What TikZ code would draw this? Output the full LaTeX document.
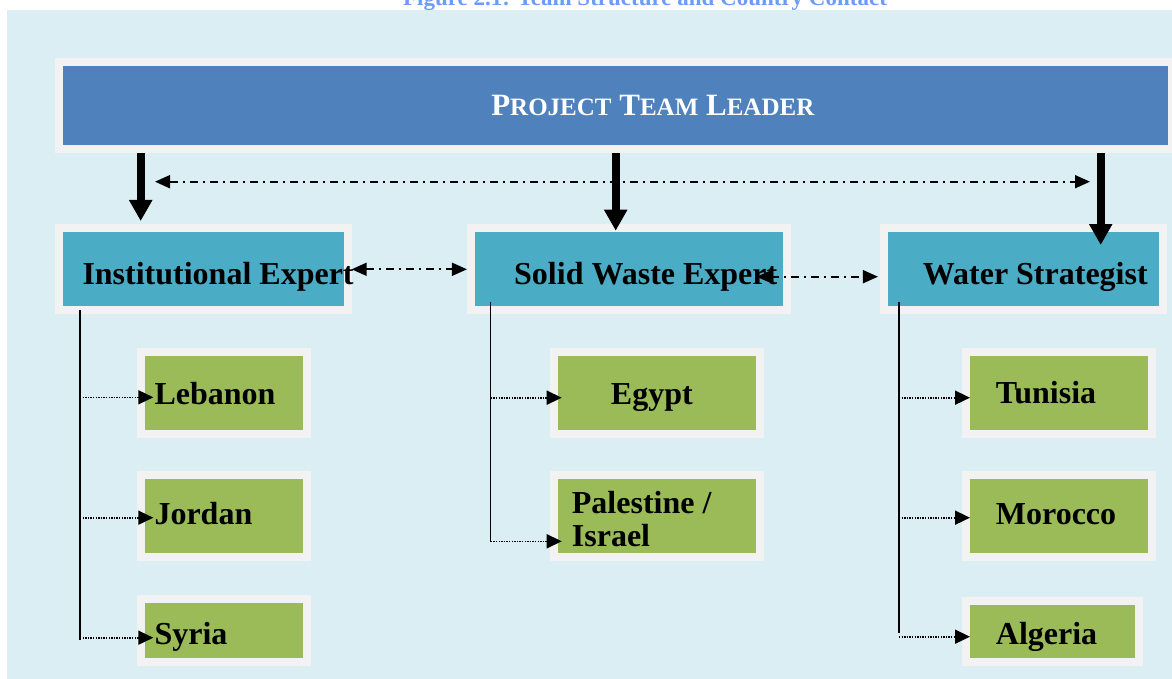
\documentclass[tikz,border=0pt]{standalone}
\usepackage{fontspec}
\setmainfont{Liberation Serif}
\usetikzlibrary{arrows.meta,calc}

\definecolor{pagebg}{RGB}{219,238,243}
\definecolor{framegray}{RGB}{242,242,242}
\definecolor{leaderblue}{RGB}{79,129,189}
\definecolor{expertblue}{RGB}{75,172,198}
\definecolor{countrygreen}{RGB}{155,187,89}
\definecolor{captionblue}{RGB}{110,155,250}

% faked small capitals for the leader banner
\newcommand\lowcaps[1]{{\fontsize{25}{25}\selectfont #1}}

\tikzset{
  framed/.style={draw=framegray, line width=8pt, inner sep=0pt, outer sep=0pt},
  leaderbox/.style={framed, fill=leaderblue},
  expertbox/.style={framed, fill=expertblue},
  countrybox/.style={framed, fill=countrygreen},
  lbl/.style={inner sep=0pt, anchor=base west, font=\fontsize{32}{33}\selectfont\bfseries},
  bigarrow/.style={line width=8pt, -{Triangle[length=21pt,width=22pt]}},
  dashdotlink/.style={line width=1.7pt, dash pattern=on 8pt off 5pt on 2pt off 5pt,
    {Triangle[length=15pt,width=13pt]}-{Triangle[length=15pt,width=13pt]}},
  trunk/.style={line width=1.5pt},
  dotlink/.style={line width=1.6pt, dash pattern=on 1.4pt off 1.2pt,
    -{Triangle[length=15pt,width=14pt]}},
}

\begin{document}
\begin{tikzpicture}[x=1pt,y=-1pt]
\useasboundingbox (0,0) rectangle (1172,679);
\clip (0,0) rectangle (1172,679);
\fill[white] (0,0) rectangle (1172,679);
\fill[pagebg] (7,10) rectangle (1172,679);

% caption
\node[inner sep=0pt, anchor=base, text=captionblue,
      font=\fontsize{23}{23}\selectfont\bfseries] (caption) at (645,5.7)
  {Figure 2.1: Team Structure and Country Contact};

% leader banner
\node[leaderbox, minimum width=1113pt, minimum height=87pt] (leader) at (615.5,105.5) {};
\node[inner sep=0pt, anchor=base, text=white, font=\fontsize{31}{31}\selectfont\bfseries]
  (leadertxt) at (652.8,115.3)
  {P\lowcaps{ROJECT} T\lowcaps{EAM} L\lowcaps{EADER}};

% experts
\node[expertbox, minimum width=288.7pt, minimum height=82pt] (inst)  at (203.3,269) {};
\node[expertbox, minimum width=315.7pt, minimum height=82pt] (solid) at (628.8,269) {};
\node[expertbox, minimum width=278.7pt, minimum height=82pt] (water) at (1023.3,269) {};

% countries
\node[countrybox, minimum width=165.4pt, minimum height=81.7pt] (leb) at (224,392.8) {};
\node[countrybox, minimum width=165.4pt, minimum height=82pt]   (jor) at (224,516.3) {};
\node[countrybox, minimum width=165.4pt, minimum height=63pt]   (syr) at (224,630.5) {};
\node[countrybox, minimum width=206pt, minimum height=81.7pt]   (egy) at (657,392.8) {};
\node[countrybox, minimum width=206pt, minimum height=82pt]     (pal) at (657,516.3) {};
\node[countrybox, minimum width=185.7pt, minimum height=81.7pt] (tun) at (1059.2,392.8) {};
\node[countrybox, minimum width=185.7pt, minimum height=82pt]   (mor) at (1059.2,516.3) {};
\node[countrybox, minimum width=172.4pt, minimum height=60.4pt] (alg) at (1052.5,631.5) {};

% labels
\node[lbl] (instlbl)  at (82.3,284)  {Institutional Expert};
\node[lbl] (solidlbl) at (514,284)   {Solid Waste Expert};
\node[lbl] (waterlbl) at (922.7,284) {Water Strategist};
\node[lbl] (leblbl) at (154.3,404) {Lebanon};
\node[lbl] (jorlbl) at (154.3,524) {Jordan};
\node[lbl] (syrlbl) at (154.3,644) {Syria};
\node[lbl] (egylbl) at (610.7,404) {Egypt};
\node[lbl] (pallbla) at (571.7,513.3) {Palestine /};
\node[lbl] (pallblb) at (571.7,546) {Israel};
\node[lbl] (tunlbl) at (995.7,403.3) {Tunisia};
\node[lbl] (morlbl) at (995.7,524) {Morocco};
\node[lbl] (alglbl) at (995.7,644) {Algeria};

% leader to experts
\coordinate (hInst)  at (140.7,221);
\coordinate (hSolid) at (615.7,230.7);
\coordinate (hWater) at (1100.7,245);
\draw[bigarrow] ($(leader.south -| hInst)+(0,4)$)  -- (hInst);
\draw[bigarrow] ($(leader.south -| hSolid)+(0,4)$) -- (hSolid);
\draw[bigarrow] ($(leader.south -| hWater)+(0,4)$) -- (hWater);

% coordination links between experts
\coordinate (cL) at (155,181.7);
\coordinate (cR) at (1090,181.7);
\draw[dashdotlink] (cL) -- (cR);
\draw[dashdotlink] ($(inst.east)+(4,0.3)$) -- ($(solid.west)+(-4,0.3)$);
\draw[dashdotlink] ($(solid.east)+(-30,7.7)$) -- ($(water.west)+(-6,7.7)$);

% trunks from experts to countries
\coordinate (tInst)  at (80,310);
\coordinate (tSolid) at (490.7,301.7);
\coordinate (tWater) at (899,301.7);
\coordinate (aLeb) at (153.3,397.3);
\coordinate (aJor) at (153.3,517.7);
\coordinate (aSyr) at (153.3,637.7);
\coordinate (aEgy) at (561.7,397.7);
\coordinate (aPal) at (561.7,541.3);
\coordinate (aTun) at (970,397.7);
\coordinate (aMor) at (970,517.7);
\coordinate (aAlg) at (970,636.7);

\draw[trunk] (tInst)  -- ($(tInst |- aSyr)+(0,2.3)$);
\draw[trunk] (tSolid) -- ($(tSolid |- aPal)+(0,0.4)$);
\draw[trunk] (tWater) -- ($(tWater |- aAlg)+(0,-3.7)$);

\draw[dotlink] (tInst |- aLeb) -- (aLeb);
\draw[dotlink] (tInst |- aJor) -- (aJor);
\draw[dotlink] (tInst |- aSyr) -- (aSyr);
\draw[dotlink] (tSolid |- aEgy) -- (aEgy);
\draw[dotlink] (tSolid |- aPal) -- (aPal);
\draw[dotlink] (tWater |- aTun) -- (aTun);
\draw[dotlink] (tWater |- aMor) -- (aMor);
\draw[dotlink] (tWater |- aAlg) -- (aAlg);
\end{tikzpicture}
\end{document}
